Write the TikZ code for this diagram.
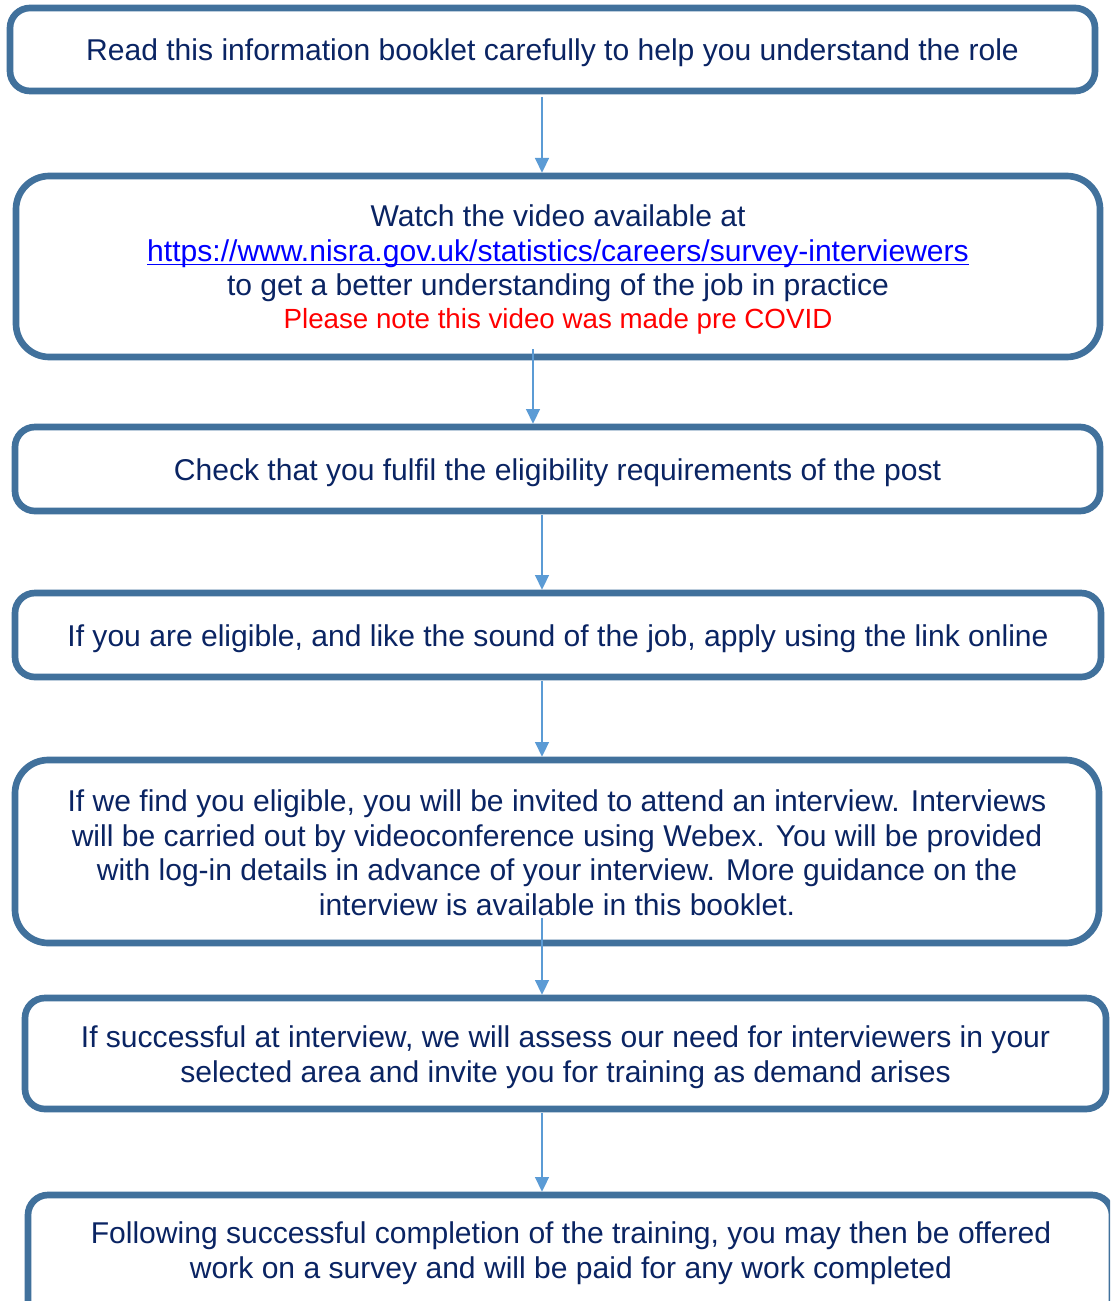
\documentclass[tikz,border=0pt]{standalone}
\usepackage{fontspec}
\setmainfont{Liberation Sans}
\usetikzlibrary{arrows.meta,calc}
\definecolor{boxline}{HTML}{41719C}
\definecolor{arrowc}{HTML}{5B9BD5}
\definecolor{navy}{HTML}{0A2463}
\definecolor{linkblue}{HTML}{0000FF}
\definecolor{notered}{HTML}{FF0000}
\newcommand{\dropstrut}[1]{\raisebox{0pt}[#1][0pt]{}}
\newsavebox{\linkbox}
\newcommand{\linktext}[1]{\sbox{\linkbox}{\color{linkblue}#1}\mbox{\color{linkblue}\rlap{\rule[-2.8pt]{\wd\linkbox}{1pt}}\usebox{\linkbox}}}
\begin{document}
\begin{tikzpicture}[x=0.75pt,y=-0.75pt,
  flowbox/.style={draw=boxline, line width=5pt, fill=white, rounded corners=15pt,
    align=center, text=navy, font=\fontsize{22.55}{26}\selectfont, inner sep=0pt},
  bigbox/.style={flowbox, rounded corners=25pt},
  textonly/.style={align=center, text=navy, font=\fontsize{22.55}{26}\selectfont, inner sep=0pt},
  conn/.style={draw=arrowc, line width=1.1pt, -{Triangle[width=10.5pt,length=11pt]}}]
\clip (0,0) rectangle (1110,1301);
\fill[white] (0,0) rectangle (1110,1301);

\node[flowbox, minimum width=1085*0.75pt, minimum height=83*0.75pt] (b1) at (552.5,49.5)
  {\dropstrut{20.5pt}Read this information booklet carefully to help you understand the role};

\node[bigbox, minimum width=1084*0.75pt, minimum height=181*0.75pt] (b2) at (558,266.5)
  {\dropstrut{21pt}Watch the video available at\\
   \linktext{https://www.nisra.gov.uk/statistics/careers/survey-interviewers}\\
   to get a better understanding of the job in practice\\[-1.5pt]
   \mbox{\fontsize{20.8}{24}\selectfont\color{notered}Please note this video was made pre COVID}};

\node[flowbox, minimum width=1085*0.75pt, minimum height=84*0.75pt] (b3) at (557.5,469)
  {\dropstrut{21.5pt}Check that you fulfil the eligibility requirements of the post};

\node[flowbox, minimum width=1086*0.75pt, minimum height=84*0.75pt] (b4) at (558,635)
  {\dropstrut{21.5pt}If you are eligible, and like the sound of the job, apply using the link online};

\node[bigbox, minimum width=1084*0.75pt, minimum height=183*0.75pt] (b5) at (557,851.5)
  {\dropstrut{18pt}If we find you eligible, you will be invited to attend an interview. Interviews\\
   will be carried out by videoconference using Webex. You will be provided\\
   with log-in details in advance of your interview. More guidance on the\\
   interview is available in this booklet.};

\node[flowbox, minimum width=1081*0.75pt, minimum height=111*0.75pt] (b6) at (565.5,1053.5)
  {\dropstrut{21.5pt}If successful at interview, we will assess our need for interviewers in your\\
   selected area and invite you for training as demand arises};

\node[flowbox, minimum width=1084*0.75pt, minimum height=135*0.75pt] (b7) at (570,1262.5) {};
\node[textonly] (t7) at (571,1253)
  {Following successful completion of the training, you may then be offered\\
   work on a survey and will be paid for any work completed};

\coordinate (ax) at (542,0);
\coordinate (ax2) at (533,0);
\draw[conn] ($(b1.south -| ax)+(0,2.5)$) -- (b2.north -| ax);
\draw[conn] ($(b2.south -| ax2)+(0,-11)$) -- (b3.north -| ax2);
\draw[conn] ($(b3.south -| ax)+(0,0.5)$) -- (b4.north -| ax);
\draw[conn] ($(b4.south -| ax)+(0,0.5)$) -- (b5.north -| ax);
\draw[conn] ($(b5.south -| ax)+(0,-28.5)$) -- (b6.north -| ax);
\draw[conn] ($(b6.south -| ax)+(0,0.5)$) -- (b7.north -| ax);
\end{tikzpicture}
\end{document}
